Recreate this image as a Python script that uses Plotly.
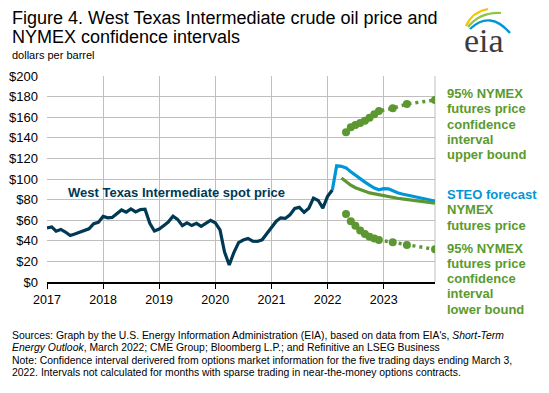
import pandas as pd
import plotly.graph_objects as go

# ---------------- data ----------------
spot_months = pd.date_range("2017-01-01", "2022-02-01", freq="MS").strftime("%Y-%m-%d").tolist()
spot_values = [
    52.50, 53.47, 49.33, 51.06, 48.48, 45.18, 46.63, 48.04, 49.82, 51.58, 56.64, 57.88,
    63.70, 62.23, 62.73, 66.25, 69.98, 67.87, 70.98, 68.06, 70.23, 70.75, 56.96, 49.52,
    51.38, 54.95, 58.15, 63.86, 60.83, 54.66, 57.35, 54.81, 56.95, 53.96, 57.03, 59.88,
    57.52, 50.54, 29.21, 16.55, 28.56, 38.31, 40.71, 42.34, 39.63, 39.40, 40.94, 47.02,
    52.00, 59.04, 62.33, 61.72, 65.17, 71.38, 72.49, 67.73, 71.65, 81.48, 79.15, 71.71,
    83.22, 89.30,
]

steo_months = pd.date_range("2022-02-01", "2023-12-01", freq="MS").strftime("%Y-%m-%d").tolist()
steo_values = [
    89.30, 112.8, 112.3, 110.8, 107.0, 103.5, 100.0, 97.0, 94.0, 91.2, 89.5,
    90.6, 90.4, 88.5, 86.6, 85.5, 84.5, 83.5, 82.5, 81.5, 80.5, 79.6, 78.6,
]

nymex_months = pd.date_range("2022-04-01", "2023-12-01", freq="MS").strftime("%Y-%m-%d").tolist()
nymex_values = [
    101.0, 97.5, 94.0, 91.5, 89.5, 88.0, 86.5, 85.5, 84.5,
    83.5, 82.8, 82.0, 81.3, 80.7, 80.2, 79.6, 79.0, 78.4, 77.9, 77.3, 76.6,
]

ci_months = ["2022-05-01", "2022-06-01", "2022-07-01", "2022-08-01", "2022-09-01",
             "2022-10-01", "2022-11-01", "2022-12-01", "2023-03-01", "2023-06-01", "2023-12-01"]
ci_upper = [145.3, 150.2, 152.4, 154.3, 156.5, 159.5, 162.8, 166.0, 168.6, 172.8, 176.7]
ci_lower = [66.0, 59.0, 54.5, 50.0, 46.5, 44.0, 42.3, 40.8, 38.5, 36.0, 31.7]

y_ticks = [0, 20, 40, 60, 80, 100, 120, 140, 160, 180, 200]
y_tick_labels = ["$" + str(v) for v in y_ticks]

# ---------------- styling ----------------
NAVY = "#003953"
BLUE = "#0096D7"
GREEN = "#5D9732"
TEXTGREEN = "#5A9A2E"
GRID = "#BFBFBF"
FONT = "Liberation Sans, Arial, sans-serif"

W_PX, H_PX = 549, 393
L, R, T, B = 47, 435, 76, 282
PW, PH = R - L, B - T


def px(x):
    return (x - L) / PW


def py(y):
    return (B - y) / PH


fig = go.Figure()

fig.add_trace(go.Scatter(x=spot_months, y=spot_values, mode="lines",
                         line=dict(color=NAVY, width=3.2), hoverinfo="skip"))
fig.add_trace(go.Scatter(x=steo_months, y=steo_values, mode="lines",
                         line=dict(color=BLUE, width=3.2), hoverinfo="skip"))
fig.add_trace(go.Scatter(x=nymex_months, y=nymex_values, mode="lines",
                         line=dict(color=GREEN, width=3.2), hoverinfo="skip"))
for vals in (ci_upper, ci_lower):
    fig.add_trace(go.Scatter(x=ci_months, y=vals, mode="lines+markers",
                             line=dict(color=GREEN, width=3.5, dash="3px,4px"),
                             marker=dict(color=GREEN, size=8),
                             hoverinfo="skip"))

annotations = []


def text(x, y, s, size, color="black", bold=False, xanchor="left", xref="paper", yref="paper"):
    if bold:
        s = "<b>" + s + "</b>"
    annotations.append(dict(x=x, y=y, xref=xref, yref=yref, text=s, showarrow=False,
                            xanchor=xanchor, yanchor="middle",
                            font=dict(family=FONT, size=size, color=color)))


# title
text(px(10), py(17.5), "Figure 4. West Texas Intermediate crude oil price and", 18)
text(px(10), py(37), "NYMEX confidence intervals", 18)
text(px(10), py(55), "dollars per barrel", 11)

# spot label
text("2019-04-25", 87, "West Texas Intermediate spot price", 13, NAVY, True,
     xanchor="center", xref="x", yref="y")

# right labels
xr = px(445)
for s, yy in zip(["95% NYMEX", "futures price", "confidence", "interval", "upper bound"],
                 [93.3, 108.8, 124.0, 139.3, 154.5]):
    text(xr, py(yy), s, 13, TEXTGREEN, True)
text(xr, py(194.3), "STEO forecast", 13, BLUE, True)
for s, yy in zip(["NYMEX", "futures price"], [209.5, 225.0]):
    text(xr, py(yy), s, 13, TEXTGREEN, True)
for s, yy in zip(["95% NYMEX", "futures price", "confidence", "interval", "lower bound"],
                 [248.3, 263.5, 278.5, 293.5, 309.0]):
    text(xr, py(yy), s, 13, TEXTGREEN, True)

# source notes
notes = [
    "Sources: Graph by the U.S. Energy Information Administration (EIA), based on data from EIA's, <i>Short-Term</i>",
    "<i>Energy Outlook</i>, March 2022; CME Group; Bloomberg L.P.; and Refinitive an LSEG Business",
    "Note: Confidence interval derivered from options market information for the five trading days ending March 3,",
    "2022. Intervals not calculated for months with sparse trading in near-the-money options contracts.",
]
for s, yy in zip(notes, [335.0, 347.5, 360.7, 372.2]):
    text(px(10), py(yy), s, 10.4)

# eia logo text
annotations.append(dict(x=px(484), y=py(40), xref="paper", yref="paper", text="eia",
                        showarrow=False, xanchor="center", yanchor="middle",
                        font=dict(family="Liberation Serif, DejaVu Serif, serif", size=34, color="#3C3C3C")))

shapes = []


def P(x, y):
    return f"{px(x):.5f},{py(y):.5f}"


# logo arcs
shapes.append(dict(type="path", xref="paper", yref="paper",
                   path=f"M {P(466,26)} Q {P(472,12)} {P(488,9)}",
                   line=dict(color="#F5C400", width=2.2)))
shapes.append(dict(type="path", xref="paper", yref="paper",
                   path=f"M {P(468,27)} Q {P(480,12)} {P(501,13)}",
                   line=dict(color="#8DC63F", width=2.2)))
shapes.append(dict(type="path", xref="paper", yref="paper",
                   path=f"M {P(470,29)} Q {P(490,10)} {P(510,33)}",
                   line=dict(color="#0096D7", width=2.4)))

# right border line of plot
shapes.append(dict(type="line", xref="paper", yref="paper", x0=1, x1=1, y0=0, y1=1,
                   line=dict(color=GRID, width=1), layer="below"))

fig.update_layout(
    width=W_PX, height=H_PX,
    margin=dict(l=L, r=W_PX - R, t=T, b=H_PX - B, pad=0, autoexpand=False),
    paper_bgcolor="white", plot_bgcolor="white",
    showlegend=False,
    annotations=annotations,
    shapes=shapes,
    xaxis=dict(
        type="date", range=["2017-01-01", "2023-12-01"],
        tick0="2017-01-01", dtick="M12", tickformat="%Y",
        showgrid=True, gridcolor=GRID, gridwidth=1,
        showline=True, linecolor="black", linewidth=1.5,
        ticks="outside", ticklen=5, tickcolor="black", tickwidth=1,
        tickfont=dict(family=FONT, size=12.5, color="black"),
        zeroline=False, fixedrange=True, automargin=False,
    ),
    yaxis=dict(
        range=[0, 200], tickvals=y_ticks, ticktext=y_tick_labels,
        showgrid=True, gridcolor=GRID, gridwidth=1,
        showline=False, zeroline=False,
        ticks="", ticklabelstandoff=8,
        tickfont=dict(family=FONT, size=13, color="black"),
        fixedrange=True, automargin=False,
    ),
)

fig.write_html(
    "out.html",
    config={"displayModeBar": False, "staticPlot": True},
    post_script="document.body.style.margin='0';document.body.style.overflow='hidden';",
)
